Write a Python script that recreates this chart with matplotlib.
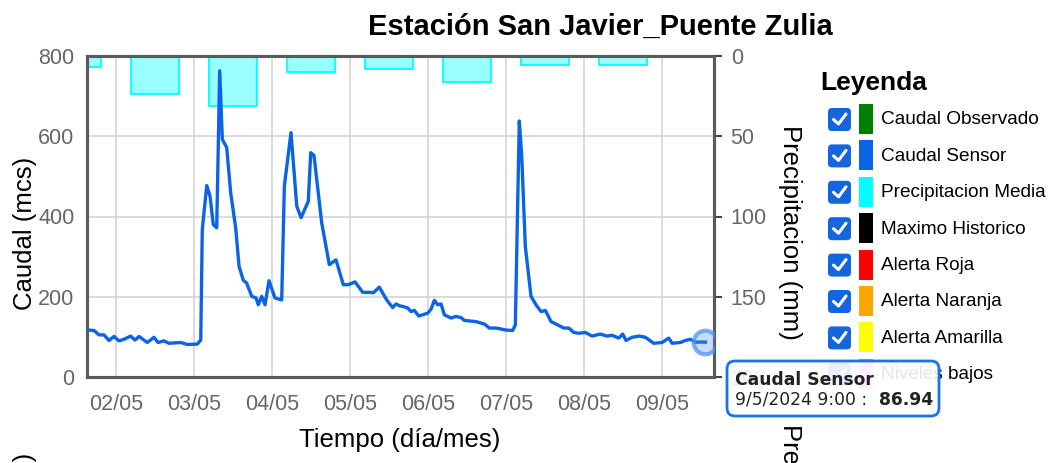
import matplotlib
matplotlib.use("Agg")
import matplotlib.pyplot as plt
from matplotlib.patches import FancyBboxPatch, Rectangle
from matplotlib.lines import Line2D
from matplotlib.transforms import Affine2D

plt.rcParams['font.family'] = ['Liberation Sans', 'DejaVu Sans']

# caudal sensor (dia de mayo, mcs)
dia_sensor = [1.636, 1.722, 1.786, 1.85, 1.914, 1.978, 2.042, 2.106, 2.192, 2.247,
              2.299, 2.405, 2.491, 2.542, 2.619, 2.683, 2.833, 2.918, 3.046, 3.09,
              3.11, 3.167, 3.209, 3.251, 3.295, 3.333, 3.367, 3.423, 3.474, 3.538,
              3.581, 3.636, 3.679, 3.744, 3.799, 3.828, 3.872, 3.914, 3.965, 4.042,
              4.128, 4.162, 4.247, 4.321, 4.376, 4.469, 4.5, 4.542, 4.641, 4.738,
              4.824, 4.918, 4.982, 5.068, 5.167, 5.26, 5.303, 5.379, 5.474, 5.551,
              5.594, 5.645, 5.679, 5.744, 5.786, 5.828, 5.885, 6.0, 6.042, 6.085,
              6.128, 6.171, 6.213, 6.299, 6.363, 6.428, 6.469, 6.619, 6.726, 6.79,
              6.876, 7.004, 7.09, 7.123, 7.174, 7.205, 7.251, 7.324, 7.388, 7.453,
              7.508, 7.581, 7.645, 7.744, 7.808, 7.872, 7.936, 8.021, 8.107, 8.213,
              8.299, 8.363, 8.449, 8.5, 8.542, 8.619, 8.713, 8.79, 8.897, 9.004,
              9.09, 9.132, 9.238, 9.303, 9.367, 9.431, 9.559]
caudal_sensor = [117, 116, 105, 105, 91, 101, 90, 94, 102, 92,
                 101, 86, 99, 86, 90, 84, 86, 81, 82, 92,
                 367, 477, 451, 380, 372, 763, 592, 572, 459, 372,
                 276, 241, 234, 201, 197, 180, 201, 180, 240, 197,
                 192, 476, 609, 426, 397, 438, 559, 552, 384, 280,
                 292, 230, 230, 237, 211, 211, 210, 224, 192, 173,
                 182, 177, 176, 172, 163, 166, 152, 159, 169, 191,
                 180, 182, 155, 147, 151, 148, 141, 138, 132, 122,
                 122, 117, 116, 130, 638, 551, 326, 201, 180, 163,
                 166, 138, 132, 122, 122, 111, 109, 111, 102, 107,
                 102, 104, 97, 107, 91, 99, 102, 99, 84, 86,
                 97, 84, 86, 91, 94, 87, 86.94]

# precipitacion media diaria (mm)
dia_precip = [1.5, 2.5, 3.5, 4.5, 5.5, 6.5, 7.5, 8.5]
precip = [7.1, 23.8, 31.4, 10.2, 8.3, 16.5, 5.6, 5.6]

dias_tick = [2, 3, 4, 5, 6, 7, 8, 9]
etiquetas_tick = ['02/05', '03/05', '04/05', '05/05', '06/05', '07/05', '08/05', '09/05']

leyenda_nombres = ['Caudal Observado', 'Caudal Sensor', 'Precipitacion Media', 'Maximo Historico',
                   'Alerta Roja', 'Alerta Naranja', 'Alerta Amarilla', 'Niveles bajos']
leyenda_colores = ['#008000', '#0b63e5', '#00ffff', '#000000',
                   '#ff0000', '#ffa500', '#ffff00', '#ff66ff']

W, H = 1052, 463
fig = plt.figure(figsize=(W / 100, H / 100), dpi=100)
px = Affine2D().scale(1 / W, -1 / H).translate(0, 1) + fig.transFigure

ax = fig.add_axes([87 / W, 1 - 377 / H, (714 - 87) / W, (377 - 56) / H])
ax2 = ax.twinx()

gris = '#666666'
ax2.bar(dia_precip, precip, width=0.62, color='#00ffff', alpha=0.4, zorder=2)
ax2.bar(dia_precip, precip, width=0.62, facecolor='none', edgecolor='#00ffff', linewidth=1.3, zorder=3)
ax2.set_ylim(200, 0)
ax2.set_yticks([0, 50, 100, 150, 200])
ax2.tick_params(axis='y', length=6, width=1.5, color='#444444', labelcolor=gris, labelsize=15.5, pad=6)

ax.set_zorder(ax2.get_zorder() + 1)
ax.patch.set_visible(False)
ax.plot(dia_sensor, caudal_sensor, color='#0b63e5', linewidth=2.4, zorder=4)
ax.plot(dia_sensor[-1], caudal_sensor[-1], 'o', ms=17, mfc=(0.25, 0.55, 0.95, 0.3),
        mec=(0.3, 0.58, 0.95, 0.75), mew=3, zorder=5)
ax.set_xlim(1.632, 9.67)
ax.set_ylim(0, 800)
ax.set_yticks([0, 200, 400, 600, 800])
ax.set_xticks(dias_tick)
ax.set_xticklabels(etiquetas_tick)
ax.tick_params(axis='both', length=0, labelcolor=gris, labelsize=15.5)
ax.tick_params(axis='x', pad=12)
ax.tick_params(axis='y', pad=9)
ax.grid(True, color='#d4d4d4', linewidth=1.2)
ax.set_axisbelow(True)
for a in (ax, ax2):
    for s in a.spines.values():
        s.set_color('#5a5a5a')
        s.set_linewidth(2.2)

# titulos y ejes
fig.text(600, 27, 'Estación San Javier_Puente Zulia', transform=px, ha='center', va='center',
         fontsize=21, fontweight='bold')
fig.text(400, 440, 'Tiempo (día/mes)', transform=px, ha='center', va='center', fontsize=18.5)
fig.text(25, 233, 'Caudal (mcs)', transform=px, ha='center', va='center', rotation=90, fontsize=18.5)
fig.text(790, 232, 'Precipitacion (mm)', transform=px, ha='center', va='center', rotation=270, fontsize=18.5)
fig.text(790, 424, 'Precipitacion (mm)', transform=px, ha='center', va='top', rotation=270, fontsize=18.5)
fig.text(25, 453, 'Caudal (mcs)', transform=px, ha='center', va='top', rotation=90, fontsize=18.5)

# leyenda
fig.text(820, 83, 'Leyenda', transform=px, ha='left', va='center', fontsize=19, fontweight='bold')
for i, (nombre, color) in enumerate(zip(leyenda_nombres, leyenda_colores)):
    yc = 119 + i * 36.4
    fig.add_artist(FancyBboxPatch((828, yc - 11), 23, 23, boxstyle='round,pad=0,rounding_size=4',
                                  transform=px, facecolor='#1565e0', edgecolor='none'))
    fig.add_artist(Line2D([833.5, 838.5, 846], [yc + 0.5, yc + 5, yc - 5], transform=px,
                          color='white', linewidth=2.2, solid_capstyle='round', solid_joinstyle='round'))
    fig.add_artist(Rectangle((859, yc - 15), 14, 30, transform=px, facecolor=color, edgecolor='none'))
    fig.text(881, yc + 1, nombre, transform=px, ha='left', va='center', fontsize=13.7)

# tooltip
fig.add_artist(FancyBboxPatch((727, 361), 212, 55, boxstyle='round,pad=0,rounding_size=8',
                              transform=px, facecolor=(1, 1, 1, 0.9), edgecolor='#1a73e8',
                              linewidth=2, zorder=10))
fig.text(735, 380, 'Caudal Sensor', transform=px, ha='left', va='center', fontsize=12.3,
         fontweight='bold', family='DejaVu Sans', color='#222222', zorder=11)
fig.text(735, 400, '9/5/2024 9:00 :', transform=px, ha='left', va='center', fontsize=12.3,
         family='DejaVu Sans', color='#222222', zorder=11)
fig.text(879, 400, '%.2f' % caudal_sensor[-1], transform=px, ha='left', va='center', fontsize=12.3,
         fontweight='bold', family='DejaVu Sans', color='#222222', zorder=11)

fig.savefig('out.png', dpi=100)
